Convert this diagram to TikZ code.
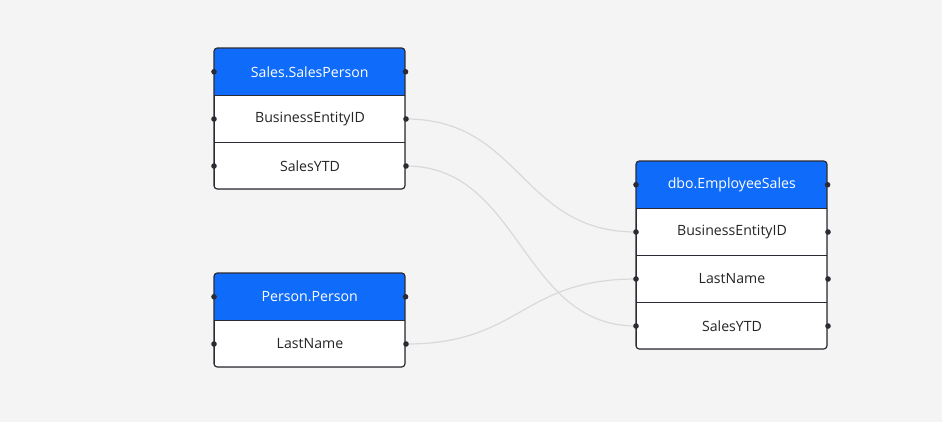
\documentclass[tikz,border=0pt]{standalone}
\usepackage{fontspec}
\setmainfont{Open Sans}
\definecolor{bg}{HTML}{F4F4F4}
\definecolor{hdr}{HTML}{0F6CFA}
\definecolor{frame}{HTML}{2B2B33}
\definecolor{link}{HTML}{D9D9D9}
\definecolor{txt}{HTML}{242424}
\begin{document}
\begin{tikzpicture}[x=0.75pt,y=-0.75pt,
  hdrcell/.style={rectangle, fill=hdr, text=white, minimum width=143.25pt, minimum height=35.25pt, inner sep=0pt, anchor=north west, font=\fontsize{10.6}{12}\selectfont},
  rowcell/.style={rectangle, fill=white, draw=frame, line width=0.75pt, text=txt, minimum width=143.25pt, minimum height=35.25pt, inner sep=0pt, anchor=north west, font=\fontsize{10.6}{12}\selectfont},
  tframe/.style={draw=frame, line width=0.9pt, rounded corners=2.5pt},
  port/.style={fill=frame},
  linkline/.style={draw=link, line width=0.9pt}]
\useasboundingbox[fill=bg] (0,0) rectangle (942,422);

% Sales.SalesPerson
\begin{scope}
\clip[rounded corners=2.5pt] (214,48) rectangle (405,189);
\node[hdrcell] (sh) at (214,48) {Sales.SalesPerson};
\node[rowcell] (sbe) at (214,95) {BusinessEntityID};
\node[rowcell] (sytd) at (214,142) {SalesYTD};
\end{scope}
\draw[tframe] (214,48) rectangle (405,189);

% Person.Person
\begin{scope}
\clip[rounded corners=2.5pt] (214,273) rectangle (405,367);
\node[hdrcell] (ph) at (214,273) {Person.Person};
\node[rowcell] (pln) at (214,320) {LastName};
\end{scope}
\draw[tframe] (214,273) rectangle (405,367);

% dbo.EmployeeSales
\begin{scope}
\clip[rounded corners=2.5pt] (636,161) rectangle (827,349);
\node[hdrcell] (eh) at (636,161) {dbo.EmployeeSales};
\node[rowcell] (ebe) at (636,208) {BusinessEntityID};
\node[rowcell] (eln) at (636,255) {LastName};
\node[rowcell] (eytd) at (636,302) {SalesYTD};
\end{scope}
\draw[tframe] (636,161) rectangle (827,349);

% connectors
\draw[linkline] (sbe.east) .. controls +(115,0) and +(-115,0) .. (ebe.west);
\draw[linkline] (sytd.east) .. controls +(115,0) and +(-115,0) .. (eytd.west);
\draw[linkline] (pln.east) .. controls +(115,0) and +(-115,0) .. (eln.west);

% ports
\foreach \n in {sh,sbe,sytd,ph,pln,eh,ebe,eln,eytd}{
  \fill[port] (\n.west) circle (2.8);
  \fill[port] (\n.east) circle (2.8);
}
\end{tikzpicture}
\end{document}
